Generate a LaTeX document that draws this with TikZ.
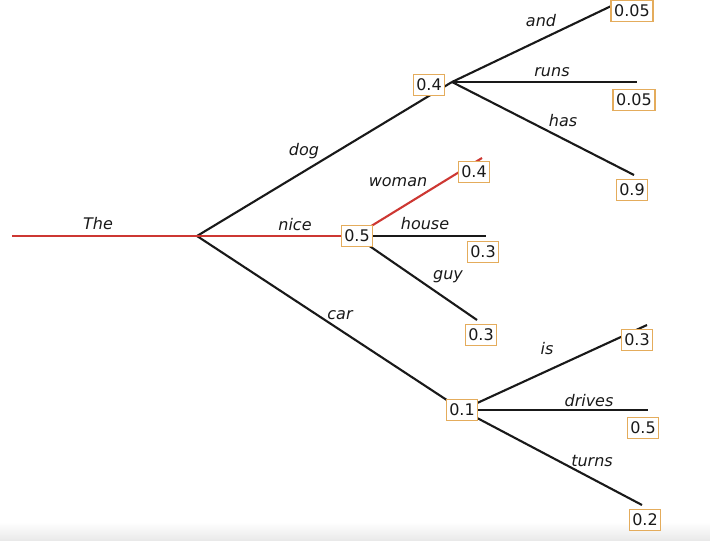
\documentclass[tikz,border=0pt]{standalone}
\usepackage{fontspec}
\setmainfont{DejaVu Sans}
\definecolor{edgered}{RGB}{205,55,50}
\definecolor{boxorange}{RGB}{228,172,92}
\begin{document}
\begin{tikzpicture}[x=1pt,y=-1pt,
  edge/.style={line width=2.1pt,black!90},
  redge/.style={line width=2.1pt,edgered},
  prob/.style={draw=boxorange,line width=1.4pt,fill=white,inner xsep=3pt,inner ysep=4.5pt,
    text height=11.8pt,text depth=0pt,font=\fontsize{16}{19}\selectfont,text=black!90},
  word/.style={anchor=base,inner sep=0pt,font=\fontsize{16}{19}\selectfont\itshape,text=black!90}]
\useasboundingbox (0,0) rectangle (710,541);
\clip (0,0) rectangle (710,541);
\shade[top color=white,bottom color=black!9] (0,522) rectangle (710,541);
% coordinates
\coordinate (start) at (12,236);
\coordinate (root) at (197,236);
\coordinate (v04) at (452,82);
\coordinate (v05) at (355,236);
\coordinate (v01) at (462,410);
\coordinate (eand) at (628,-2);
\coordinate (eruns) at (637,82);
\coordinate (ehas) at (634,175);
\coordinate (ewoman) at (482,158);
\coordinate (ehouse) at (486,236);
\coordinate (eguy) at (477,320);
\coordinate (eis) at (647,325);
\coordinate (edrives) at (648,410);
\coordinate (eturns) at (642,505);
% connectors
\draw[edge] (root) -- (v04);
\draw[edge] (root) -- (v01);
\draw[edge] (v04) -- (eand);
\draw[edge] (v04) -- (eruns);
\draw[edge] (v04) -- (ehas);
\draw[edge] (v05) -- (ehouse);
\draw[edge] (v05) -- (eguy);
\draw[edge] (v01) -- (eis);
\draw[edge] (v01) -- (edrives);
\draw[edge] (v01) -- (eturns);
\draw[redge] (start) -- (root);
\draw[redge] (root) -- (v05);
\draw[redge] (v05) -- (ewoman);
% probability boxes
\node[prob] (b04) at (429,85) {0.4};
\node[prob] (b05) at (357,236) {0.5};
\node[prob] (b01) at (462,410) {0.1};
\node[prob] (band) at (632,11) {0.05};
\node[prob] (bruns) at (634,100) {0.05};
\node[prob] (bhas) at (632,190) {0.9};
\node[prob] (bwoman) at (474,172) {0.4};
\node[prob] (bhouse) at (483,252) {0.3};
\node[prob] (bguy) at (481,335) {0.3};
\node[prob] (bis) at (637,340) {0.3};
\node[prob] (bdrives) at (643,428) {0.5};
\node[prob] (bturns) at (645,520) {0.2};
% word labels
\node[word] (lthe) at (98,229) {The};
\node[word] (ldog) at (304,155) {dog};
\node[word] (lnice) at (295,230) {nice};
\node[word] (lcar) at (340,319) {car};
\node[word] (land) at (541,26) {and};
\node[word] (lruns) at (552,76) {runs};
\node[word] (lhas) at (563,126) {has};
\node[word] (lwoman) at (398,186) {woman};
\node[word] (lhouse) at (425,229) {house};
\node[word] (lguy) at (448,279) {guy};
\node[word] (lis) at (547,354) {is};
\node[word] (ldrives) at (589,406) {drives};
\node[word] (lturns) at (592,466) {turns};
\end{tikzpicture}
\end{document}
